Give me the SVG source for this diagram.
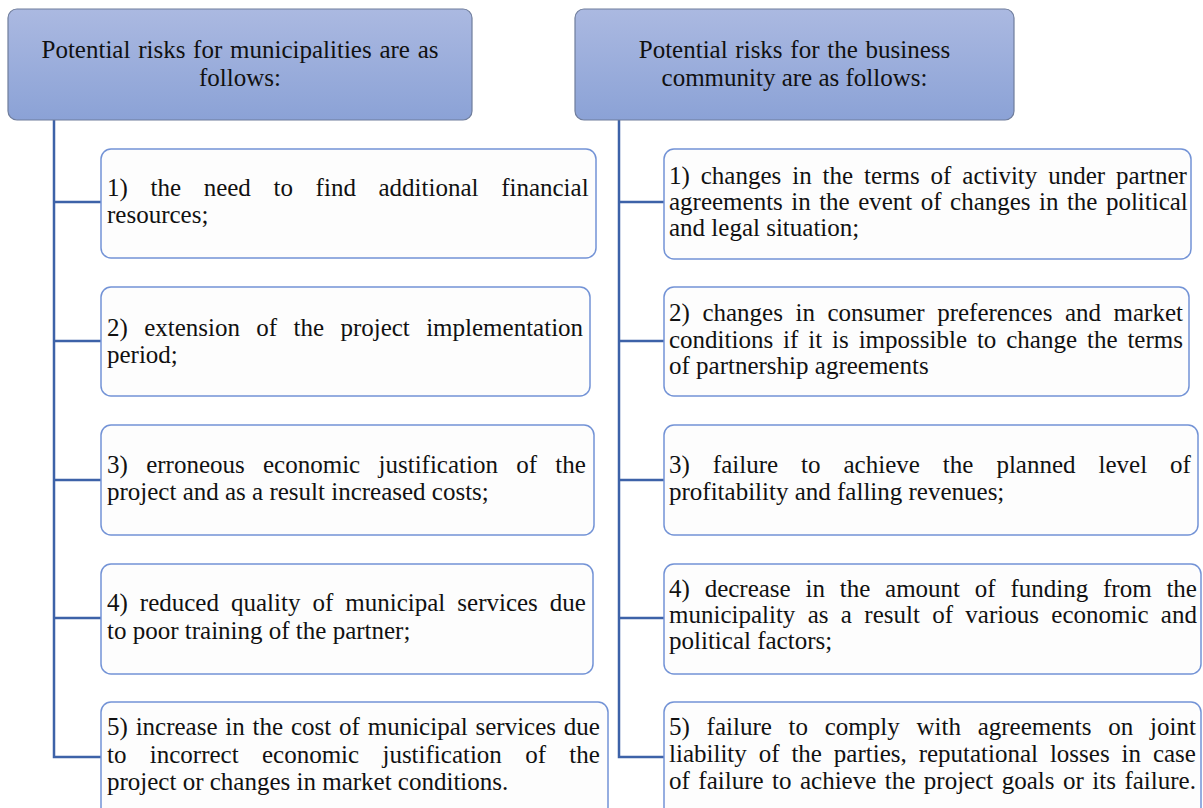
<svg xmlns="http://www.w3.org/2000/svg" width="1203" height="808" viewBox="0 0 1203 808">
<defs>
<linearGradient id="hg" x1="0" y1="0" x2="0" y2="1">
<stop offset="0" stop-color="#abb9e1"/>
<stop offset="1" stop-color="#8ba2d6"/>
</linearGradient>
<style>
.hdr{fill:url(#hg);stroke:#6f7d9c;stroke-width:1.2}
.box{fill:#fdfdfd;stroke:#7393d6;stroke-width:1.5}
.t{font-family:"Liberation Serif","Times New Roman",serif;font-size:25px;fill:#111111}
.c{text-anchor:middle}
.con{fill:none;stroke:#3d62a8;stroke-width:2.5}
</style>
</defs>
<rect width="1203" height="808" fill="#ffffff"/>
<g id="connectors">
<path class="con" d="M54 120 V757 H101 M54 202 H101 M54 341 H101 M54 480 H101 M54 618 H101"/>
<path class="con" d="M619 120 V757 H664 M619 202 H664 M619 341 H664 M619 480 H664 M619 618 H664"/>
</g>
<g id="header-left">
<rect class="hdr" x="8" y="9" width="464" height="111" rx="9"/>
<text class="t c" x="240" y="58" word-spacing="1.5">Potential risks for municipalities are as</text>
<text class="t c" x="240" y="86">follows:</text>
</g>
<g id="header-right">
<rect class="hdr" x="575" y="9" width="439" height="111" rx="9"/>
<text class="t c" x="794.5" y="58" word-spacing="1.5">Potential risks for the business</text>
<text class="t c" x="794.5" y="86">community are as follows:</text>
</g>
<g id="left-1">
<rect class="box" x="101" y="149" width="495" height="109" rx="10"/>
<text class="t" x="107" y="196" word-spacing="16.4">1) the need to find additional financial</text>
<text class="t" x="107" y="223">resources;</text>
</g>
<g id="left-2">
<rect class="box" x="101" y="287" width="489" height="109" rx="10"/>
<text class="t" x="107" y="336" word-spacing="10.1">2) extension of the project implementation</text>
<text class="t" x="107" y="363">period;</text>
</g>
<g id="left-3">
<rect class="box" x="101" y="425" width="493" height="110" rx="10"/>
<text class="t" x="107" y="473" word-spacing="12.06">3) erroneous economic justification of the</text>
<text class="t" x="107" y="500">project and as a result increased costs;</text>
</g>
<g id="left-4">
<rect class="box" x="101" y="564" width="492" height="110" rx="10"/>
<text class="t" x="107" y="611" word-spacing="5.78">4) reduced quality of municipal services due</text>
<text class="t" x="107" y="639">to poor training of the partner;</text>
</g>
<g id="left-5">
<rect class="box" x="101" y="702" width="507" height="115" rx="10"/>
<text class="t" x="107" y="735" word-spacing="1.57">5) increase in the cost of municipal services due</text>
<text class="t" x="107" y="763" word-spacing="17.08">to incorrect economic justification of the</text>
<text class="t" x="107" y="790">project or changes in market conditions.</text>
</g>
<g id="right-1">
<rect class="box" x="664" y="149" width="527" height="110" rx="10"/>
<text class="t" x="669" y="184" word-spacing="4.69">1) changes in the terms of activity under partner</text>
<text class="t" x="669" y="210" word-spacing="2.2">agreements in the event of changes in the political</text>
<text class="t" x="669" y="236">and legal situation;</text>
</g>
<g id="right-2">
<rect class="box" x="664" y="287" width="525" height="109" rx="10"/>
<text class="t" x="669" y="321" word-spacing="6.3">2) changes in consumer preferences and market</text>
<text class="t" x="669" y="348" word-spacing="3.66">conditions if it is impossible to change the terms</text>
<text class="t" x="669" y="374">of partnership agreements</text>
</g>
<g id="right-3">
<rect class="box" x="664" y="425" width="534" height="110" rx="10"/>
<text class="t" x="669" y="473" word-spacing="16.75">3) failure to achieve the planned level of</text>
<text class="t" x="669" y="500">profitability and falling revenues;</text>
</g>
<g id="right-4">
<rect class="box" x="664" y="564" width="537" height="110" rx="10"/>
<text class="t" x="669" y="597" word-spacing="8.55">4) decrease in the amount of funding from the</text>
<text class="t" x="669" y="623" word-spacing="6.09">municipality as a result of various economic and</text>
<text class="t" x="669" y="649">political factors;</text>
</g>
<g id="right-5">
<rect class="box" x="664" y="702" width="537" height="115" rx="10"/>
<text class="t" x="669" y="735" word-spacing="10.5">5) failure to comply with agreements on joint</text>
<text class="t" x="669" y="762" word-spacing="5.65">liability of the parties, reputational losses in case</text>
<text class="t" x="669" y="789" word-spacing="2.24">of failure to achieve the project goals or its failure.</text>
</g>
</svg>
